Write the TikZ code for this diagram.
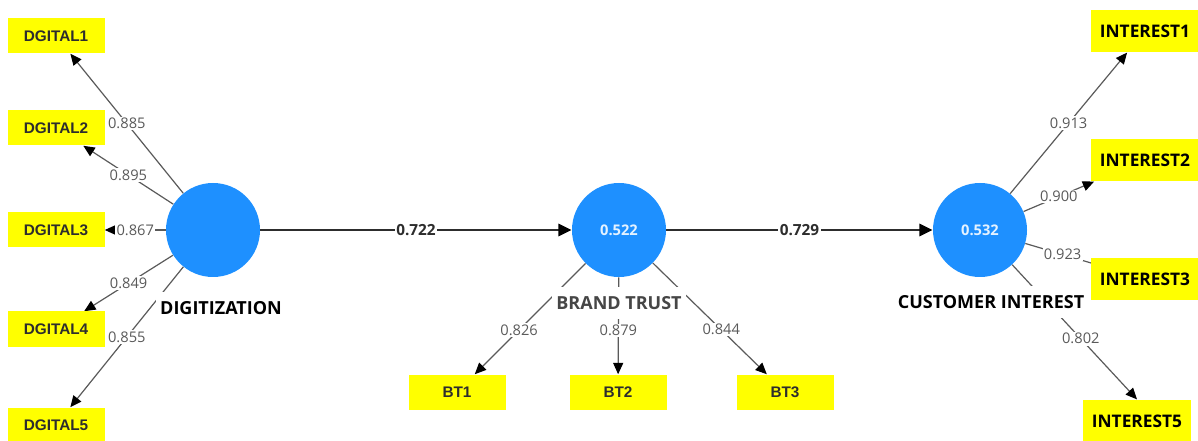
\documentclass[tikz,border=0pt]{standalone}
\usepackage{fontspec}
\setmainfont{Open Sans}
\newfontfamily\arialf{Liberation Sans}
\usetikzlibrary{arrows.meta,backgrounds}
\definecolor{cblue}{RGB}{30,144,255}
\definecolor{yel}{RGB}{255,255,0}
\definecolor{lgray}{RGB}{90,90,90}
\definecolor{dgray}{RGB}{45,45,45}
\definecolor{mgray}{RGB}{70,70,70}
\begin{document}
\begin{tikzpicture}[x=0.75pt,y=-0.75pt,
  latent/.style={circle,fill=cblue,minimum size=70.5pt,inner sep=0pt,
    text=white!88!cblue,font=\bfseries\fontsize{11}{13}\selectfont},
  indA/.style={rectangle,fill=yel,minimum width=72.75pt,minimum height=26.25pt,
    inner sep=0pt,text=dgray,font=\arialf\bfseries\fontsize{11.5}{13}\selectfont},
  indB/.style={rectangle,fill=yel,minimum width=81pt,minimum height=32pt,
    inner sep=0pt,text=black,font=\bfseries\fontsize{13}{15}\selectfont},
  cname/.style={fill=white,inner xsep=3pt,inner ysep=7pt,text=black,
    font=\bfseries\fontsize{13.5}{16}\selectfont},
  load/.style={draw=lgray,line width=0.9pt,
    -{Triangle[length=8.5pt,width=7.5pt,color=black]}},
  pathar/.style={draw=dgray,line width=2.2pt,
    -{Triangle[length=10pt,width=9pt,color=black]}},
  lab/.style={fill=white,inner sep=1pt,text=lgray,font=\fontsize{11}{13}\selectfont},
  plab/.style={fill=white,inner sep=1pt,text=dgray,font=\bfseries\fontsize{11.5}{13}\selectfont}
]
\useasboundingbox (0,0) rectangle (1198,441);

% latent variables
\node[latent] (dig) at (213,230) {};
\node[latent] (bt)  at (619,230) {0.522};
\node[latent] (ci)  at (980,230) {0.532};

% indicators
\node[indA] (d1) at (56,36)  {DGITAL1};
\node[indA] (d2) at (56,128) {DGITAL2};
\node[indA] (d3) at (56,230) {DGITAL3};
\node[indA] (d4) at (56,329) {DGITAL4};
\node[indA] (d5) at (56,425) {DGITAL5};

\node[indA] (b1) at (457,392) {BT1};
\node[indA] (b2) at (618,392) {BT2};
\node[indA] (b3) at (785,392) {BT3};

\node[indB] (i1) at (1145,31)  {INTEREST1};
\node[indB] (i2) at (1145,160) {INTEREST2};
\node[indB] (i3) at (1145,279) {INTEREST3};
\node[indB] (i5) at (1137,421) {INTEREST5};

% construct names
\node[cname] (digl) at (221,308) {DIGITIZATION};
\node[cname,text=mgray] (btl) at (619,303) {BRAND TRUST};
\node[cname] (cil) at (991,302) {CUSTOMER INTEREST};

\begin{scope}[on background layer]
\draw[load] (dig) -- node[lab]{0.885} (d1);
\draw[load] (dig) -- node[lab]{0.895} (d2);
\draw[load] (dig) -- node[lab]{0.867} (d3);
\draw[load] (dig) -- node[lab]{0.849} (d4);
\draw[load] (dig) -- node[lab]{0.855} (d5);

\draw[load] (bt) -- node[lab,pos=0.6]{0.826} (b1);
\draw[load] (bt) -- node[lab,pos=0.55]{0.879} (b2);
\draw[load] (bt) -- node[lab,pos=0.6]{0.844} (b3);

\draw[load] (ci) -- node[lab]{0.913} (i1);
\draw[load] (ci) -- node[lab]{0.900} (i2);
\draw[load,shorten >=-10pt] (ci) -- node[lab,pos=0.57]{0.923} (i3);
\draw[load] (ci) -- node[lab,pos=0.55]{0.802} (i5.north);

\draw[pathar] (dig) -- node[plab]{0.722} (bt);
\draw[pathar] (bt) -- node[plab]{0.729} (ci);
\end{scope}
\end{tikzpicture}
\end{document}
